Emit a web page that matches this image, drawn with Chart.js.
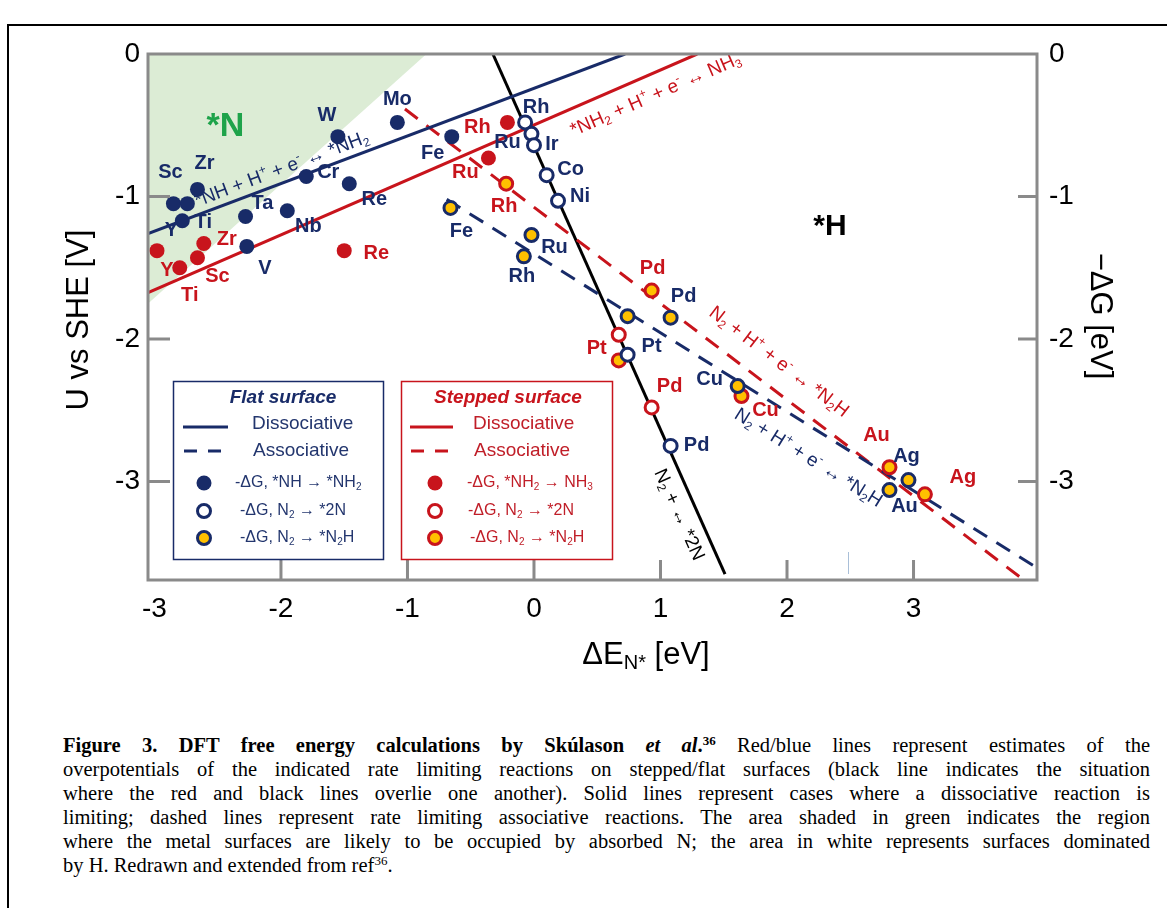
<!DOCTYPE html>
<html>
<head>
<meta charset="utf-8">
<title>DFT free energy calculations</title>
<script src="https://cdn.jsdelivr.net/npm/chart.js@4.4.1/dist/chart.umd.min.js"></script>
<style>
  html, body { margin: 0; padding: 0; background: #fff; }
  body { width: 1167px; height: 908px; position: relative; overflow: hidden; }
  #frame { position: absolute; left: 7px; top: 24px; width: 1300px; height: 1000px;
           border-left: 2px solid #000; border-top: 2px solid #000; }
  #chart { position: absolute; left: 0; top: 0; }
  #caption { position: absolute; left: 63px; top: 733px; width: 1087px;
             font-family: "Liberation Serif", "Times New Roman", serif; font-size: 20.5px; color: #000; }
  #caption div { height: 24px; line-height: 24px; text-align: justify; text-align-last: justify; white-space: nowrap; }
  #caption div.last { text-align-last: left; }
  #caption sup { font-size: 13px; line-height: 0; vertical-align: 7px; }
</style>
</head>
<body>
<div id="frame"></div>
<canvas id="chart" width="1167" height="700"></canvas>
<div id="caption">
  <div><b>Figure 3. DFT free energy calculations by Skúlason <i>et al</i>.<sup>36</sup></b> Red/blue lines represent estimates of the</div>
  <div>overpotentials of the indicated rate limiting reactions on stepped/flat surfaces (black line indicates the situation</div>
  <div>where the red and black lines overlie one another). Solid lines represent cases where a dissociative reaction is</div>
  <div>limiting; dashed lines represent rate limiting associative reactions. The area shaded in green indicates the region</div>
  <div>where the metal surfaces are likely to be occupied by absorbed N; the area in white represents surfaces dominated</div>
  <div class="last">by H. Redrawn and extended from ref<sup>36</sup>.</div>
</div>
<script>
// ==== Data ====
const xTicks = [-3, -2, -1, 0, 1, 2, 3];
const yTicks = [0, -1, -2, -3];

// flat surface, -dG *NH -> *NH2 (filled blue)
const flatNHNames = ["Sc", "Y", "Zr", "Ti", "Ta", "V", "Nb", "Cr", "Re", "W", "Mo", "Fe"];
const flatNHX = [-2.85, -2.74, -2.66, -2.78, -2.28, -2.27, -1.95, -1.80, -1.46, -1.55, -1.08, -0.65];
const flatNHY = [-1.05, -1.05, -0.95, -1.17, -1.14, -1.35, -1.10, -0.86, -0.91, -0.58, -0.48, -0.58];

// stepped surface, -dG *NH2 -> NH3 (filled red)
const stepNH2Names = ["Y", "Ti", "Zr", "Sc", "Re", "Rh", "Ru"];
const stepNH2X = [-2.98, -2.80, -2.61, -2.66, -1.50, -0.21, -0.36];
const stepNH2Y = [-1.38, -1.50, -1.33, -1.43, -1.38, -0.48, -0.73];

// flat surface, -dG N2 -> *2N (open blue)
const flat2NNames = ["Rh", "Ru", "Ir", "Co", "Ni", "Pt", "Pd"];
const flat2NX = [-0.07, -0.02, 0.00, 0.10, 0.19, 0.74, 1.08];
const flat2NY = [-0.48, -0.56, -0.64, -0.85, -1.03, -2.11, -2.75];

// stepped surface, -dG N2 -> *2N (open red)
const step2NNames = ["Pt", "Pd"];
const step2NX = [0.67, 0.93];
const step2NY = [-1.97, -2.48];

// flat surface, -dG N2 -> *N2H (yellow, blue ring)
const flatN2HNames = ["Fe", "Ru", "Rh", "", "Pd", "Cu", "Ag", "Au"];
const flatN2HX = [-0.66, -0.02, -0.08, 0.74, 1.08, 1.61, 2.96, 2.81];
const flatN2HY = [-1.08, -1.27, -1.42, -1.84, -1.85, -2.33, -2.99, -3.06];

// stepped surface, -dG N2 -> *N2H (yellow, red ring)
const stepN2HNames = ["Rh", "Pd", "", "Cu", "Au", "Ag"];
const stepN2HX = [-0.22, 0.93, 0.67, 1.64, 2.81, 3.09];
const stepN2HY = [-0.91, -1.66, -2.15, -2.40, -2.90, -3.09];

// limiting lines (end points)
const flatDissX = [-3.05, 0.72];
const flatDissY = [-1.26, 0.0];
const stepDissX = [-3.05, 1.29];
const stepDissY = [-1.675, 0.0];
const flatAssocX = [-0.69, 4.02];
const flatAssocY = [-1.02, -3.63];
const stepAssocX = [-1.02, 3.87];
const stepAssocY = [-0.386, -3.69];
const n2LineX = [-0.325, 1.51];
const n2LineY = [0.0, -3.65];

// boundary of the *N region
const nRegionX = [-3.05, -0.85];
const nRegionY = [-1.75, 0.0];

// ==== Style ====
const SANS = '"Liberation Sans", Arial, Helvetica, sans-serif';
const NAVY = "#182b68";
const RED = "#c8141c";
const YELLOW = "#ffc000";
const AXIS = "#8a8a8a";

// label offsets in px from the marker
const flatNHOff = [[-3, -31], [-16, 27], [7, -26], [21, 2], [17, -13], [18, 22], [21, 16], [22, -4], [25, 16], [-11, -21], [0, -23], [-19, 17]];
const stepNH2Off = [[10, 20], [10, 28], [23, -4], [20, 19], [32, 3], [-30, 5], [-23, 14]];
const flat2NOff = [[11, -15], [-24, 9], [18, -1], [24, -6], [22, -4], [24, -8], [26, 0]];
const step2NOff = [[-22, 14], [18, -21]];
const flatN2HOff = [[11, 24], [23, 12], [-2, 20], [0, 0], [13, -21], [-28, -7], [-2, -24], [15, 16]];
const stepN2HOff = [[-2, 23], [1, -22], [0, 0], [24, 14], [-13, -32], [38, -17]];

const pts = (xs, ys) => xs.map((x, i) => ({ x, y: ys[i] }));

// ==== Rich text (sub/superscripts) ====
function richSegs(str) {
  const segs = [];
  for (let i = 0; i < str.length; i++) {
    const c = str[i];
    if ((c === "_" || c === "^") && i + 1 < str.length) {
      let t;
      if (str[i + 1] === "{") { const j = str.indexOf("}", i + 2); t = str.slice(i + 2, j); i = j; }
      else { t = str[i + 1]; i++; }
      segs.push({ t, mode: c === "_" ? "sub" : "sup" });
    } else {
      const last = segs[segs.length - 1];
      if (last && last.mode === "n") last.t += c; else segs.push({ t: c, mode: "n" });
    }
  }
  return segs;
}

function drawRich(ctx, str, x, y, o) {
  const segs = richSegs(str);
  const fontFor = m => `${o.style || "normal"} ${o.weight || "normal"} ${m === "n" ? o.size : Math.round(o.size * 0.65)}px ${SANS}`;
  let w = 0;
  segs.forEach(s => { ctx.font = fontFor(s.mode); s.w = ctx.measureText(s.t).width; w += s.w; });
  let cx = x;
  if (o.align === "center") cx -= w / 2; else if (o.align === "right") cx -= w;
  ctx.fillStyle = o.color || "#000";
  ctx.textBaseline = "middle";
  ctx.textAlign = "left";
  segs.forEach(s => {
    ctx.font = fontFor(s.mode);
    const dy = s.mode === "sub" ? o.size * 0.28 : s.mode === "sup" ? -o.size * 0.32 : 0;
    ctx.fillText(s.t, cx, y + dy);
    cx += s.w;
  });
  return w;
}

// text running along a line, offset perpendicular (positive = above)
function lineLabel(chart, text, xs, ys, atX, offset, color, size) {
  const { ctx, scales: { x, y } } = chart;
  const x0 = x.getPixelForValue(xs[0]), y0 = y.getPixelForValue(ys[0]);
  const x1 = x.getPixelForValue(xs[1]), y1 = y.getPixelForValue(ys[1]);
  const ang = Math.atan2(y1 - y0, x1 - x0);
  const t = (atX - xs[0]) / (xs[1] - xs[0]);
  ctx.save();
  ctx.translate(x0 + t * (x1 - x0), y0 + t * (y1 - y0));
  ctx.rotate(ang);
  drawRich(ctx, text, 0, -offset, { size, color });
  ctx.restore();
}

function marker(ctx, kind, color, cx, cy) {
  ctx.beginPath();
  if (kind === "fill") {
    ctx.arc(cx, cy, 7.5, 0, Math.PI * 2);
    ctx.fillStyle = color; ctx.fill();
  } else {
    ctx.arc(cx, cy, 6.5, 0, Math.PI * 2);
    ctx.fillStyle = kind === "open" ? "#fff" : YELLOW; ctx.fill();
    ctx.lineWidth = 3; ctx.strokeStyle = color; ctx.stroke();
  }
}

function drawLegend(ctx, L) {
  ctx.save();
  ctx.fillStyle = "#fff";
  ctx.fillRect(L.box[0], L.box[1], L.box[2], L.box[3]);
  ctx.strokeStyle = L.color; ctx.lineWidth = 1.5;
  ctx.strokeRect(L.box[0] + 0.5, L.box[1] + 0.5, L.box[2], L.box[3]);
  drawRich(ctx, L.title, L.titleX, L.box[1] + 17, { size: 19, weight: "bold", style: "italic", color: L.color, align: "center" });
  ctx.lineWidth = 3; ctx.strokeStyle = L.color;
  ctx.beginPath(); ctx.moveTo(L.lineX[0], 427); ctx.lineTo(L.lineX[1], 427); ctx.stroke();
  ctx.setLineDash([13, 11]);
  ctx.beginPath(); ctx.moveTo(L.lineX[0] + 1, 451); ctx.lineTo(L.lineX[1], 451); ctx.stroke();
  ctx.setLineDash([]);
  drawRich(ctx, "Dissociative", L.textX, 424, { size: 19, color: L.text });
  drawRich(ctx, "Associative", L.textX + 1, 451, { size: 19, color: L.text });
  const kinds = ["fill", "open", "ring"], rowsY = [483, 511, 538];
  kinds.forEach((k, i) => {
    marker(ctx, k, L.color, L.markX, rowsY[i]);
    drawRich(ctx, L.entries[i], L.entryX[i], rowsY[i], { size: 16, color: L.text });
  });
  ctx.restore();
}

// ==== Plugin: frame, ticks, labels, legend ====
const decor = {
  id: "decor",
  afterDatasetDraw(chart, args) {
    // line labels sit under lines and markers, above the green area
    if (args.index !== 0) return;
    lineLabel(chart, "*NH + H^+ + e^- \u2194 *NH_2", flatDissX, flatDissY, -2.64, 13, NAVY, 19);
    lineLabel(chart, "*NH_2 + H^+ + e^- \u2194 NH_3", stepDissX, stepDissY, 0.23, -21, RED, 19);
    lineLabel(chart, "N_2 + H^+ + e^- \u2194 *N_2H", stepAssocX, stepAssocY, 1.28, 25, RED, 19);
    lineLabel(chart, "N_2 + H^+ + e^- \u2194 *N_2H", flatAssocX, flatAssocY, 1.715, -28, NAVY, 19);
    lineLabel(chart, "N_2 + \u2194 *2N", n2LineX, n2LineY, 1.117, -18, "#000", 19);
    const { ctx, scales: { x, y } } = chart;
    ctx.save();
    drawRich(ctx, "*N", x.getPixelForValue(-2.44), y.getPixelForValue(-0.51), { size: 34, weight: "bold", color: "#1ea34a", align: "center" });
    drawRich(ctx, "*H", x.getPixelForValue(2.34), y.getPixelForValue(-1.21), { size: 30, weight: "bold", color: "#000", align: "center" });
    ctx.restore();
  },
  afterDatasetsDraw(chart) {
    const { ctx, chartArea: a, scales: { x, y } } = chart;
    ctx.save();
    // faint stray mark near the bottom axis
    ctx.strokeStyle = "#a9bfd8"; ctx.lineWidth = 1;
    const sx = Math.round(x.getPixelForValue(2.48)) + 0.5;
    ctx.beginPath(); ctx.moveTo(sx, a.bottom - 28); ctx.lineTo(sx, a.bottom - 6); ctx.stroke();

    // plot frame and inward ticks
    ctx.strokeStyle = AXIS; ctx.lineWidth = 3;
    ctx.strokeRect(a.left, a.top, a.right - a.left, a.bottom - a.top);
    ctx.beginPath();
    xTicks.filter(v => v > -3).forEach(v => {
      const px = x.getPixelForValue(v);
      ctx.moveTo(px, a.bottom); ctx.lineTo(px, a.bottom - 20);
    });
    yTicks.filter(v => v < 0).forEach(v => {
      const py = y.getPixelForValue(v);
      ctx.moveTo(a.left, py); ctx.lineTo(a.left + 22, py);
      ctx.moveTo(a.right, py); ctx.lineTo(a.right - 19, py);
    });
    ctx.stroke();

    // element labels next to markers
    const groups = [
      [flatNHNames, flatNHX, flatNHY, flatNHOff, NAVY],
      [stepNH2Names, stepNH2X, stepNH2Y, stepNH2Off, RED],
      [flat2NNames, flat2NX, flat2NY, flat2NOff, NAVY],
      [step2NNames, step2NX, step2NY, step2NOff, RED],
      [flatN2HNames, flatN2HX, flatN2HY, flatN2HOff, NAVY],
      [stepN2HNames, stepN2HX, stepN2HY, stepN2HOff, RED]
    ];
    groups.forEach(([names, xs, ys, offs, color]) => {
      names.forEach((n, i) => {
        if (!n) return;
        drawRich(ctx, n, x.getPixelForValue(xs[i]) + offs[i][0], y.getPixelForValue(ys[i]) + offs[i][1],
          { size: 20, weight: "bold", color, align: "center" });
      });
    });

    // legends
    drawLegend(ctx, {
      box: [173, 381, 210, 178], color: NAVY, text: "#23366e", title: "Flat surface", titleX: 283,
      lineX: [183, 228], textX: 252, markX: 204, entryX: [235, 240, 240],
      entries: ["-\u0394G, *NH \u2192 *NH_2", "-\u0394G, N_2 \u2192 *2N", "-\u0394G, N_2 \u2192 *N_2H"]
    });
    drawLegend(ctx, {
      box: [401, 381, 211, 178], color: RED, text: "#c01e28", title: "Stepped surface", titleX: 508,
      lineX: [410, 453], textX: 473, markX: 435, entryX: [467, 468, 470],
      entries: ["-\u0394G, *NH_2 \u2192 NH_3", "-\u0394G, N_2 \u2192 *2N", "-\u0394G, N_2 \u2192 *N_2H"]
    });

    // axis titles
    ctx.save(); ctx.translate(79, 320); ctx.rotate(-Math.PI / 2);
    drawRich(ctx, "U vs SHE [V]", 0, 0, { size: 31, align: "center" });
    ctx.restore();
    ctx.save(); ctx.translate(1100, 316); ctx.rotate(Math.PI / 2);
    drawRich(ctx, "\u2212\u0394G [eV]", 0, 0, { size: 31, align: "center" });
    ctx.restore();
    drawRich(ctx, "\u0394E_{N*} [eV]", 646, 655, { size: 31, align: "center" });
    ctx.restore();
  }
};

// ==== Chart ====
const tickFont = { family: SANS, size: 28 };
const yScale = (pos, width, pad) => ({
  type: "linear", position: pos, min: -3.691, max: 0,
  afterBuildTicks: s => { s.ticks = yTicks.map(v => ({ value: v })); },
  afterFit: s => { s.width = width; },
  ticks: { font: tickFont, color: "#000", padding: pad, callback: v => String(v) },
  grid: { display: false, drawTicks: false },
  border: { display: false }
});

const markerSet = (data, kind, color) => ({
  type: "scatter", data, showLine: false, order: 1,
  pointRadius: kind === "fill" ? 7.5 : 6.5,
  pointHoverRadius: kind === "fill" ? 7.5 : 6.5,
  pointBackgroundColor: kind === "fill" ? color : kind === "open" ? "#fff" : YELLOW,
  pointBorderColor: color,
  pointBorderWidth: kind === "fill" ? 0 : 3
});
const lineSet = (data, color, dash) => ({
  type: "line", data, borderColor: color, borderWidth: 3, borderDash: dash || [],
  pointRadius: 0, fill: false, order: 5
});

new Chart(document.getElementById("chart"), {
  type: "scatter",
  data: {
    datasets: [
      { type: "line", data: pts(nRegionX, nRegionY), borderWidth: 0, pointRadius: 0,
        fill: "end", backgroundColor: "#dcecd5", order: 10 },
      lineSet(pts(flatDissX, flatDissY), NAVY),
      lineSet(pts(stepDissX, stepDissY), RED),
      lineSet(pts(flatAssocX, flatAssocY), NAVY, [16, 11]),
      lineSet(pts(stepAssocX, stepAssocY), RED, [16, 11]),
      lineSet(pts(n2LineX, n2LineY), "#000"),
      markerSet(pts(flatNHX, flatNHY), "fill", NAVY),
      markerSet(pts(stepNH2X, stepNH2Y), "fill", RED),
      markerSet(pts(flat2NX, flat2NY), "open", NAVY),
      markerSet(pts(step2NX, step2NY), "open", RED),
      markerSet(pts(flatN2HX, flatN2HY), "ring", NAVY),
      markerSet(pts(stepN2HX, stepN2HY), "ring", RED)
    ]
  },
  options: {
    responsive: false,
    animation: false,
    devicePixelRatio: 1,
    layout: { padding: { top: 54, left: 0, right: 0, bottom: 0 } },
    plugins: { legend: { display: false }, tooltip: { enabled: false } },
    scales: {
      x: {
        type: "linear", min: -3.051, max: 3.976,
        afterBuildTicks: s => { s.ticks = xTicks.map(v => ({ value: v })); },
        afterFit: s => { s.height = 120; },
        ticks: { font: tickFont, color: "#000", padding: 12, callback: v => String(v) },
        grid: { display: false, drawTicks: false },
        border: { display: false }
      },
      y: yScale("left", 148, 8),
      y2: yScale("right", 130, 12)
    }
  },
  plugins: [decor]
});
</script>
</body>
</html>
